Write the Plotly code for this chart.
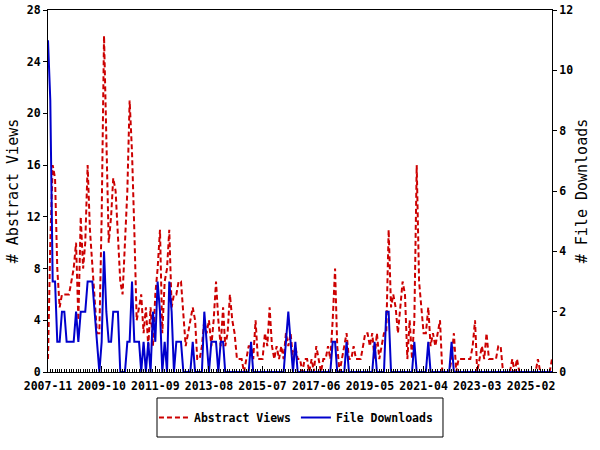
import pandas as pd
import plotly.graph_objects as go

start_month = "2007-11-01"
n_months = 217
months = pd.date_range(start_month, periods=n_months, freq="MS")

abstract_views = [
    1, 10, 16, 15, 8, 5, 6, 6, 6, 6,
    7, 8, 10, 4, 12, 8, 10, 16, 11, 8,
    6, 3, 3, 12, 26, 17, 10, 12, 15, 14,
    10, 7, 6, 10, 14, 21, 17, 11, 4, 5,
    6, 3, 5, 2, 5, 2, 6, 8, 11, 3,
    7, 8, 11, 5, 6, 6, 7, 7, 4, 2,
    3, 4, 5, 4, 1, 1, 2, 4, 3, 4,
    2, 4, 7, 4, 2, 5, 2, 3, 6, 4,
    3, 1, 1, 1, 0, 1, 2, 2, 1, 4,
    1, 1, 1, 3, 2, 5, 2, 1, 2, 1,
    2, 1, 3, 2, 3, 1, 2, 1, 1, 0,
    1, 1, 0, 1, 0, 2, 1, 0, 1, 1,
    2, 1, 4, 8, 2, 0, 1, 2, 3, 1,
    1, 2, 1, 1, 1, 2, 3, 3, 2, 3,
    1, 3, 1, 2, 3, 3, 11, 5, 6, 5,
    3, 5, 7, 6, 1, 4, 1, 4, 16, 7,
    5, 3, 3, 5, 2, 3, 2, 3, 4, 0,
    0, 0, 0, 1, 3, 0, 1, 1, 1, 1,
    1, 1, 2, 4, 0, 1, 2, 1, 3, 1,
    1, 1, 1, 2, 2, 0, 0, 0, 0, 1,
    0, 1, 0, 0, 0, 0, 0, 0, 0, 0,
    1, 0, 0, 0, 0, 0, 1,
]

file_downloads = [
    11, 9, 3, 3, 1, 1, 2, 2, 1, 1,
    1, 1, 2, 1, 2, 2, 2, 3, 3, 3,
    2, 1, 0, 1, 4, 2, 1, 1, 2, 2,
    2, 0, 0, 0, 1, 1, 3, 1, 1, 1,
    0, 1, 0, 1, 0, 2, 1, 3, 2, 0,
    1, 0, 3, 2, 0, 1, 1, 1, 0, 0,
    0, 0, 1, 0, 0, 0, 0, 2, 1, 0,
    1, 1, 1, 0, 1, 1, 0, 0, 0, 0,
    0, 0, 0, 0, 0, 0, 0, 1, 0, 0,
    0, 0, 0, 0, 0, 0, 0, 0, 0, 0,
    0, 0, 1, 2, 1, 0, 1, 0, 0, 0,
    0, 0, 0, 0, 0, 0, 0, 0, 0, 0,
    0, 0, 1, 1, 0, 0, 0, 0, 1, 0,
    0, 0, 0, 0, 0, 0, 0, 0, 0, 0,
    1, 0, 0, 0, 0, 2, 2, 0, 0, 0,
    0, 0, 0, 0, 0, 0, 0, 1, 0, 0,
    0, 0, 0, 1, 0, 0, 0, 0, 0, 0,
    0, 0, 0, 1, 0, 0, 0, 0, 0, 0,
    0, 0, 0, 0, 0, 0, 0, 0, 0, 0,
    0, 0, 0, 0, 0, 0, 0, 0, 0, 0,
    0, 0, 0, 0, 0, 0, 0, 0, 0, 0,
    0, 0, 0, 0, 0, 0, 0,
]

FONT = "DejaVu Sans Mono"

fig = go.Figure()
fig.add_trace(go.Scatter(
    x=months, y=abstract_views, name="Abstract Views", mode="lines",
    line=dict(color="#cc0000", width=2, dash="5px,3px"), yaxis="y",
))
fig.add_trace(go.Scatter(
    x=months, y=file_downloads, name="File Downloads", mode="lines",
    line=dict(color="#0000cc", width=2), yaxis="y2",
))

# legend frame (paper coordinates)
fig.add_shape(type="rect", xref="paper", yref="paper",
              x0=0.2163, x1=0.7837, y0=-0.1796, y1=-0.0718,
              line=dict(color="black", width=1), fillcolor="rgba(0,0,0,0)")

fig.update_layout(
    width=600, height=450,
    margin=dict(l=48, r=48, t=10, b=78),
    paper_bgcolor="white", plot_bgcolor="white",
    font=dict(family=FONT, size=11.5, color="black", weight="bold"),
    xaxis=dict(
        range=[months[0], months[-1]], automargin=False,
        tick0=start_month, dtick="M23", tickformat="%Y-%m",
        ticks="inside", ticklen=6, tickcolor="black", ticklabelstandoff=3,
        minor=dict(dtick="M1", ticks="inside", ticklen=3, tickcolor="black"),
        showline=True, linecolor="black", linewidth=1, mirror=True,
        showgrid=False, zeroline=False,
    ),
    yaxis=dict(
        range=[0, 28], dtick=4, ticks="outside", ticklen=4, tickcolor="black",
        showline=True, linecolor="black", linewidth=1, automargin=False,
        showgrid=False, zeroline=False,
        title=dict(text="# Abstract Views", font=dict(size=15, weight="normal"), standoff=4),
    ),
    yaxis2=dict(
        range=[0, 12], dtick=2, overlaying="y", side="right",
        ticks="outside", ticklen=4, tickcolor="black", automargin=False,
        showline=True, linecolor="black", linewidth=1,
        showgrid=False, zeroline=False,
        title=dict(text="# File Downloads", font=dict(size=15, weight="normal"), standoff=4),
    ),
    legend=dict(
        orientation="h", x=0.492, xanchor="center", y=-0.1257, yanchor="middle",
        borderwidth=0, bgcolor="rgba(0,0,0,0)",
        font=dict(size=11.5, weight="bold"),
    ),
)

fig.write_html(
    "out.html",
    config={"displayModeBar": False},
    post_script="document.body.style.margin='0';document.body.style.overflow='hidden';",
)
